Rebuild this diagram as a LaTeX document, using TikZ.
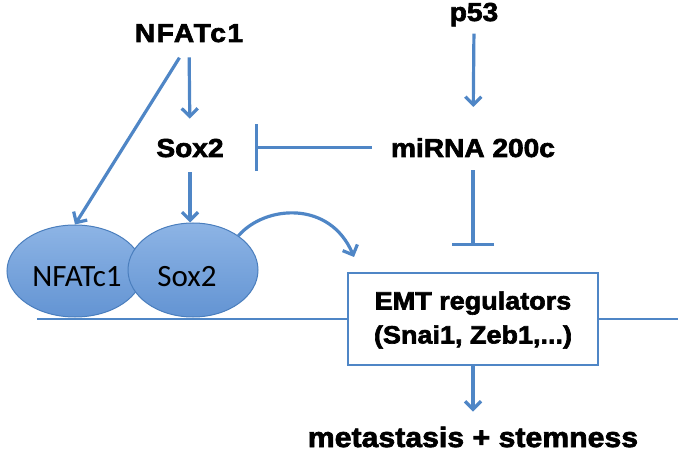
\documentclass[tikz,border=0pt]{standalone}
\usepackage{fontspec}
\setmainfont{Liberation Sans}
\newfontfamily\hvy{Liberation Sans}[UprightFont={* Bold},UprightFeatures={FakeBold=2.5,FakeStretch=1.08}]
\newfontfamily\carfont{Carlito}
\usetikzlibrary{arrows.meta,shapes.geometric}
\definecolor{lblue}{HTML}{4F86C6}
\definecolor{etop}{HTML}{8DB4E5}
\definecolor{ebot}{HTML}{6394D3}
\definecolor{eedge}{HTML}{4A7EBD}
\tikzset{
  title/.style={inner sep=0pt, anchor=base, font=\hvy\fontsize{26}{30}\selectfont},
  arr/.style={draw=lblue, line width=3.2pt, -{Straight Barb[length=8pt,width=16pt,line width=3.2pt]}},
  inh/.style={draw=lblue, line width=3.2pt, -{Bar[width=#1,line width=3.2pt]}},
  ell/.style={ellipse, draw=eedge, line width=1pt, top color=etop, bottom color=ebot, inner sep=0pt},
  etext/.style={font=\carfont\fontsize{31}{34}\selectfont, inner sep=0pt}
}
\begin{document}
\begin{tikzpicture}[x=1pt,y=-1pt]
\useasboundingbox (0,0) rectangle (685,454);
% text nodes
\node[title] (nf) at (189,42) {\addfontfeature{LetterSpace=6}NFATc1};
\node[title] (p53) at (474,21) {p53};
\node[title] (sox) at (190,157) {Sox2};
\node[title] (mir) at (473,157) {miRNA 200c};
% ellipses
\node[ell, minimum width=136pt, minimum height=92pt] (enf) at (75,271) {};
\node[ell, minimum width=130pt, minimum height=94pt] (esox) at (193,270) {};
\node[etext] (tnf) at (77,277) {NFATc1};
\node[etext] (tsox) at (187,277) {Sox2};
% EMT box
\node[draw=lblue, line width=1.8pt, fill=white, minimum width=250pt, minimum height=92pt, inner sep=0pt] (emt) at (473,319) {};
\node[inner sep=0pt, align=center, font=\hvy\fontsize{25}{34}\selectfont] (emtt) at (473,320) {EMT regulators\\(Snai1, Zeb1,...)};
\node[title, font=\hvy\fontsize{28}{30}\selectfont] (met) at (473,447) {metastasis + stemness};
% membrane
\coordinate (mL) at (37,319);
\coordinate (mR) at (678,319);
\draw[lblue, line width=2.6pt] (mL) -- (emt.west);
\draw[lblue, line width=2.6pt] (emt.east) -- (mR);
% connectors
\draw[arr, shorten <=15pt, shorten >=20pt] (nf.south) -- (sox.north);
\draw[arr, shorten <=18pt] (nf.south) -- (enf.north);
\draw[arr, shorten <=15pt] (sox.south) -- (sox.south |- esox.north);
\draw[arr, shorten <=7pt, shorten >=31pt] (p53.south) -- (mir.north);
\draw[inh=47pt, shorten <=19pt, shorten >=31pt] (mir.west) -- (sox.east |- mir.west);
\draw[inh=42pt, shorten <=13pt, shorten >=26pt] (mir.south) -- (emt.north);
\draw[arr, shorten >=15pt] (emt.south) -- (met.north);
\coordinate (ce) at (354,257);
\draw[arr] (esox.37) .. controls (265,205) and (330,200) .. (ce);
\end{tikzpicture}
\end{document}
